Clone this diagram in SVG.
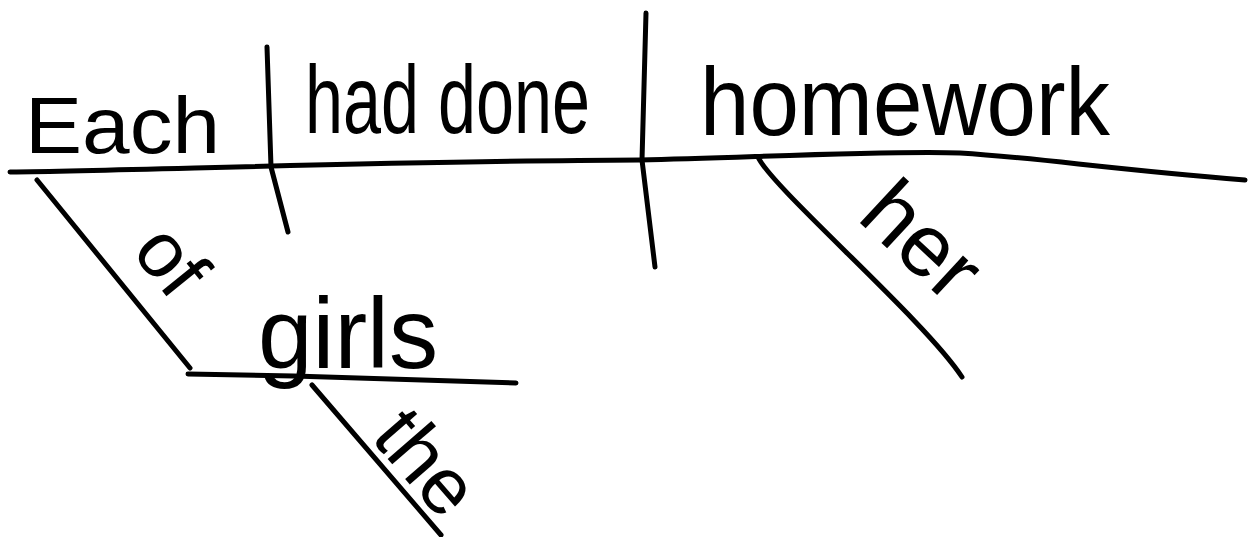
<svg xmlns="http://www.w3.org/2000/svg" width="1255" height="537" viewBox="0 0 1255 537">
<style>
.ln{fill:none;stroke:#000;stroke-width:5;stroke-linecap:round;stroke-linejoin:round}
.w{font-family:"Liberation Sans","DejaVu Sans",sans-serif;fill:#000}
</style>
<rect width="1255" height="537" fill="#fff"/>
<g id="connectors">
<path class="ln" d="M10,172 C150,170 400,161 640,160 C760,157 900,150 960,153 C1040,158 1100,168 1245,180"/>
<path class="ln" d="M267,47 L271,167 L288,232"/>
<path class="ln" d="M646,13 L642,160 L655,267"/>
<path class="ln" d="M37,180 L190,368"/>
<path class="ln" d="M188,374 L294,376 L516,383"/>
<path class="ln" d="M312,385 L441,535"/>
<path class="ln" d="M758,157 C772,188 925,320 962,377"/>
</g>
<g id="each"><text class="w" x="25" y="153" font-size="80" textLength="195" lengthAdjust="spacingAndGlyphs">Each</text></g>
<g id="had-done"><text class="w" x="305" y="133" font-size="96" textLength="285" lengthAdjust="spacingAndGlyphs">had done</text></g>
<g id="homework"><text class="w" x="700" y="135" font-size="96" textLength="410" lengthAdjust="spacingAndGlyphs">homework</text></g>
<g id="of"><text class="w" transform="translate(151,277) rotate(51)" text-anchor="middle" font-size="78">of</text></g>
<g id="girls"><text class="w" x="258" y="368" font-size="100" textLength="180" lengthAdjust="spacingAndGlyphs">girls</text></g>
<g id="the"><text class="w" transform="translate(406,480) rotate(49)" text-anchor="middle" font-size="80">the</text></g>
<g id="her"><text class="w" transform="translate(902,262) rotate(43)" text-anchor="middle" font-size="88">her</text></g>
</svg>
